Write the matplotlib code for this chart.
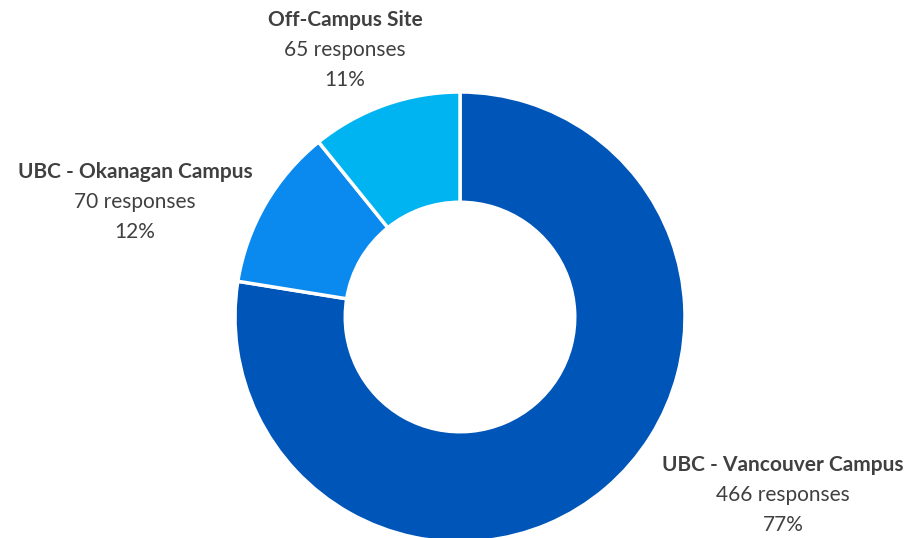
import matplotlib.pyplot as plt

# campus breakdown of responses
campuses = ['UBC - Vancouver Campus', 'UBC - Okanagan Campus', 'Off-Campus Site']
responses = [466, 70, 65]
pct_labels = ['77%', '12%', '11%']
colors = ['#0055B8', '#0A89EE', '#00B4F1']

# label anchor points (figure pixels, centre of the text block)
label_xy = [(783, 495), (135, 202), (345, 50)]

W, H = 911, 538
CX, CY, R = 460, 317, 225   # donut centre / radius in pixels

plt.rcParams['font.family'] = ['Lato', 'DejaVu Sans']
fig = plt.figure(figsize=(W / 100, H / 100), dpi=100)
ax = fig.add_axes([0, 0, 1, 1])
ax.pie(responses, colors=colors, startangle=90, counterclock=False,
       radius=1.0, wedgeprops=dict(width=0.49, edgecolor='white', linewidth=2.5))
ax.set_xlim(-CX / R, (W - CX) / R)
ax.set_ylim(-(H - CY) / R, CY / R)
ax.set_aspect('equal')
ax.axis('off')

txt_color = '#404040'
fs = 15
for name, n, pct, (px, py) in zip(campuses, responses, pct_labels, label_xy):
    fx, fy = px / W, 1 - py / H
    dy = 30 / H
    fig.text(fx, fy + dy, name, ha='center', va='center', fontsize=fs,
             fontweight='bold', color=txt_color)
    fig.text(fx, fy, f'{n} responses', ha='center', va='center', fontsize=fs,
             color=txt_color)
    fig.text(fx, fy - dy, pct, ha='center', va='center', fontsize=fs,
             color=txt_color)

fig.savefig('out.png', dpi=100, facecolor='white')
